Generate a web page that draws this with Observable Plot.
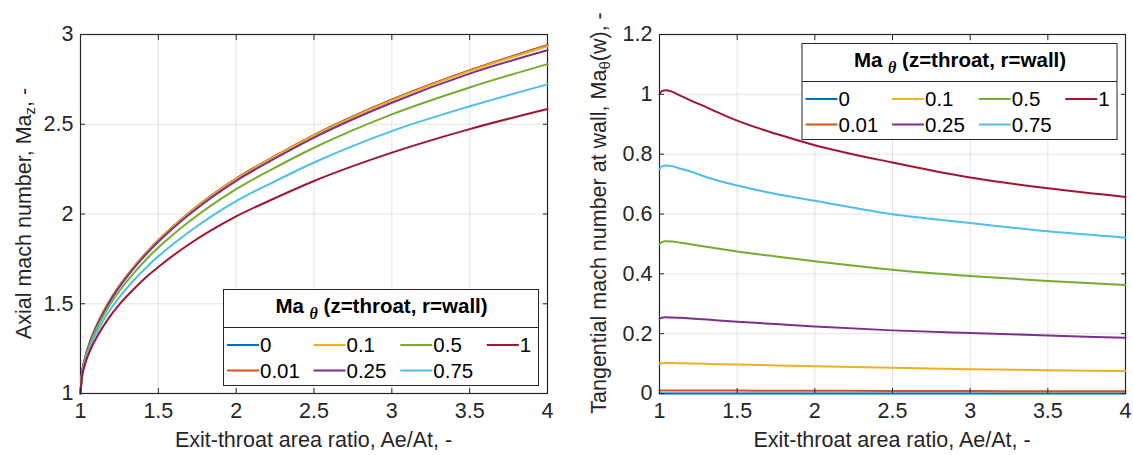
<!DOCTYPE html>
<html><head><meta charset="utf-8">
<script src="https://cdn.jsdelivr.net/npm/d3@7"></script>
<script src="https://cdn.jsdelivr.net/npm/@observablehq/plot@0.6"></script>
<style>
body{margin:0;background:#fff;}
#wrap{position:relative;width:1133px;height:455px;overflow:hidden;font-family:"Liberation Sans",Arial,sans-serif;}
#wrap svg{position:absolute;top:0;}
#wrap g[aria-label$="tick label"], #wrap g[aria-label$="tick label"] text{font-size:21.5px !important;font-family:"Liberation Sans",Arial,sans-serif !important;}
</style></head><body><div id="wrap"></div>
<script>
// Legend categories (Ma_theta at throat/wall) and MATLAB default colours
const series = ["0", "0.01", "0.1", "0.25", "0.5", "0.75", "1"];
const colors = ["#0072BD", "#D95319", "#EDB120", "#7E2F8E", "#77AC30", "#4DBEEE", "#A2142F"];

// Tick values
const xTicks = [1, 1.5, 2, 2.5, 3, 3.5, 4];
const yTicksLeft = [1, 1.5, 2, 2.5, 3];
const yTicksRight = [0, 0.2, 0.4, 0.6, 0.8, 1, 1.2];

// Left panel: axial Mach number vs exit-throat area ratio
const xLeft       = [1, 1.008, 1.03, 1.066, 1.115, 1.176, 1.25, 1.338, 1.439, 1.5, 1.688, 2, 2.223, 2.5, 3, 3.5, 4];
const mazTheta0   = [1, 1.1, 1.2, 1.3, 1.4, 1.5, 1.6, 1.7, 1.8, 1.854, 2.0, 2.197, 2.31, 2.44, 2.637, 2.80, 2.94];
const mazTheta001 = [1, 1.1, 1.2, 1.3, 1.4, 1.5, 1.6, 1.7, 1.8, 1.854, 2.0, 2.197, 2.31, 2.44, 2.637, 2.80, 2.94];
const mazTheta01  = [1, 1.1, 1.2, 1.3, 1.399, 1.499, 1.599, 1.699, 1.798, 1.852, 1.998, 2.194, 2.307, 2.436, 2.633, 2.796, 2.935];
const mazTheta025 = [1, 1.099, 1.198, 1.297, 1.396, 1.495, 1.594, 1.693, 1.792, 1.845, 1.99, 2.185, 2.297, 2.426, 2.62, 2.782, 2.912];
const mazTheta05  = [1, 1.095, 1.19, 1.286, 1.381, 1.476, 1.571, 1.666, 1.762, 1.813, 1.951, 2.139, 2.246, 2.369, 2.555, 2.705, 2.835];
const mazTheta075 = [1, 1.09, 1.179, 1.269, 1.358, 1.448, 1.537, 1.627, 1.716, 1.764, 1.894, 2.072, 2.171, 2.287, 2.462, 2.60, 2.722];
const mazTheta1   = [1, 1.083, 1.165, 1.248, 1.33, 1.413, 1.496, 1.578, 1.661, 1.705, 1.826, 1.987, 2.078, 2.184, 2.342, 2.473, 2.585];

// Right panel: tangential Mach number at wall vs exit-throat area ratio
const xRight      = [1, 1.015, 1.04, 1.08, 1.137, 1.2, 1.31, 1.5, 1.75, 2, 2.5, 3, 3.5, 4];
const mawTheta0   = [0, 0, 0, 0, 0, 0, 0, 0, 0, 0, 0, 0, 0, 0];
const mawTheta001 = [0.01, 0.0101, 0.0102, 0.0102, 0.0101, 0.01, 0.0099, 0.0097, 0.0094, 0.0091, 0.0086, 0.0081, 0.0078, 0.0075];
const mawTheta01  = [0.1, 0.101, 0.102, 0.102, 0.101, 0.1, 0.099, 0.097, 0.094, 0.091, 0.086, 0.081, 0.078, 0.075];
const mawTheta025 = [0.25, 0.253, 0.255, 0.254, 0.253, 0.251, 0.247, 0.24, 0.232, 0.224, 0.211, 0.202, 0.194, 0.186];
const mawTheta05  = [0.5, 0.506, 0.509, 0.508, 0.504, 0.499, 0.49, 0.475, 0.458, 0.442, 0.414, 0.393, 0.376, 0.363];
const mawTheta075 = [0.75, 0.759, 0.762, 0.76, 0.751, 0.742, 0.722, 0.695, 0.667, 0.644, 0.599, 0.57, 0.542, 0.521];
const mawTheta1   = [1.0, 1.011, 1.014, 1.009, 0.995, 0.98, 0.955, 0.912, 0.868, 0.83, 0.772, 0.722, 0.686, 0.657];

const leftSeries = [mazTheta0, mazTheta001, mazTheta01, mazTheta025, mazTheta05, mazTheta075, mazTheta1];
const rightSeries = [mawTheta0, mawTheta001, mawTheta01, mawTheta025, mawTheta05, mawTheta075, mawTheta1];

const toRows = (xs, ys) => series.flatMap((s, i) => xs.map((x, j) => ({x, y: ys[i][j], s})));
const leftRows = toRows(xLeft, leftSeries);
const rightRows = toRows(xRight, rightSeries);

const INK = "#262626";
const FONT = '"Liberation Sans", Arial, sans-serif';

function makePlot({rows, yDomain, yTicks, width, ml, mr}) {
  const fmt = d => String(d);
  const blank = () => "";
  return Plot.plot({
    width, height: 455,
    marginLeft: ml, marginRight: mr, marginTop: 34, marginBottom: 62,
    style: {fontFamily: FONT, fontSize: "21.5px", color: INK, background: "transparent"},
    x: {domain: [1, 4]},
    y: {domain: yDomain},
    color: {domain: series, range: colors},
    marks: [
      Plot.gridX(xTicks, {stroke: INK, strokeOpacity: 0.13, strokeWidth: 1}),
      Plot.gridY(yTicks, {stroke: INK, strokeOpacity: 0.13, strokeWidth: 1}),
      Plot.frame({stroke: INK, strokeWidth: 1.2}),
      Plot.line(rows, {x: "x", y: "y", z: "s", stroke: "s", strokeWidth: 2, curve: "monotone-x"}),
      Plot.axisX(xTicks, {anchor: "bottom", tickSize: -5, tickPadding: 14, tickFormat: fmt, label: null, stroke: INK, fill: INK, fontSize: 21.5}),
      Plot.axisX(xTicks, {anchor: "top", tickSize: -5, tickPadding: 0, tickFormat: blank, label: null, stroke: INK}),
      Plot.axisY(yTicks, {anchor: "left", tickSize: -5, tickPadding: 12, tickFormat: fmt, label: null, stroke: INK, fill: INK, fontSize: 21.5}),
      Plot.axisY(yTicks, {anchor: "right", tickSize: -5, tickPadding: 0, tickFormat: blank, label: null, stroke: INK})
    ]
  });
}

function addLabels(svg, {xCenter, yCenter, yLabelX, yParts}) {
  const s = d3.select(svg);
  s.selectAll('g[aria-label$="tick label"]').attr("font-size", 21.5)
    .selectAll("text").attr("font-size", 21.5).style("font-size", "21.5px");
  s.append("text")
    .attr("x", xCenter).attr("y", 447)
    .attr("text-anchor", "middle")
    .attr("font-family", FONT).attr("font-size", 21.5).attr("fill", INK)
    .text("Exit-throat area ratio, Ae/At, -");
  const t = s.append("text")
    .attr("transform", `translate(${yLabelX},${yCenter}) rotate(-90)`)
    .attr("text-anchor", "middle").attr("dy", "0.35em")
    .attr("font-family", FONT).attr("font-size", 21.5).attr("fill", INK);
  yParts.forEach(([txt, sub]) => {
    const ts = t.append("tspan").text(txt);
    if (sub) ts.attr("font-size", 15).attr("baseline-shift", "-25%");
  });
}

function addLegend(svg, {left, top}) {
  const W = 315, H = 96;
  const g = d3.select(svg).append("g").attr("transform", `translate(${left},${top})`);
  g.append("rect").attr("x", 0.5).attr("y", 0.5).attr("width", W).attr("height", H)
    .attr("fill", "#fff").attr("stroke", INK).attr("stroke-width", 1);
  g.append("line").attr("x1", 0.5).attr("x2", W + 0.5).attr("y1", 38.5).attr("y2", 38.5)
    .attr("stroke", INK).attr("stroke-width", 1);
  const title = g.append("text").attr("x", W / 2 + 1).attr("y", 24)
    .attr("text-anchor", "middle").attr("font-family", FONT)
    .attr("font-weight", "bold").attr("font-size", 20.5).attr("fill", "#000");
  title.append("tspan").text("Ma ");
  title.append("tspan").text("θ").attr("font-family", '"Liberation Serif", "DejaVu Serif", serif')
    .attr("font-style", "italic").attr("font-size", 16).attr("baseline-shift", "-40%");
  title.append("tspan").text(" (z=throat, r=wall)");
  const colX = [4, 90.5, 177.3, 263.8];
  const rowY = [56, 81.5];
  series.forEach((s, i) => {
    const col = Math.floor(i / 2), row = i % 2;
    const x0 = colX[col], y0 = rowY[row];
    g.append("line").attr("x1", x0).attr("x2", x0 + 32).attr("y1", y0).attr("y2", y0)
      .attr("stroke", colors[i]).attr("stroke-width", 2);
    g.append("text").attr("x", x0 + 33).attr("y", y0).attr("dy", "0.36em")
      .attr("text-anchor", "start")
      .attr("font-family", FONT).attr("font-size", 20.5).attr("fill", "#000").text(s);
  });
}

const wrap = document.getElementById("wrap");

const left = makePlot({rows: leftRows, yDomain: [1, 3], yTicks: yTicksLeft, width: 560, ml: 80, mr: 13});
left.style.left = "0px";
addLabels(left, {xCenter: 313.5, yCenter: 213.5, yLabelX: 23, yParts: [["Axial mach number, Ma"], ["z", true], [", -"]]});
addLegend(left, {left: 223, top: 289});
wrap.appendChild(left);

const right = makePlot({rows: rightRows, yDomain: [0, 1.2], yTicks: yTicksRight, width: 566, ml: 92, mr: 8});
right.style.left = "567px";
addLabels(right, {xCenter: 325, yCenter: 213, yLabelX: 31, yParts: [["Tangential mach number at wall, Ma"], ["θ", true], ["(w), -"]]});
addLegend(right, {left: 234.5, top: 43});
wrap.appendChild(right);
</script>
</body></html>
